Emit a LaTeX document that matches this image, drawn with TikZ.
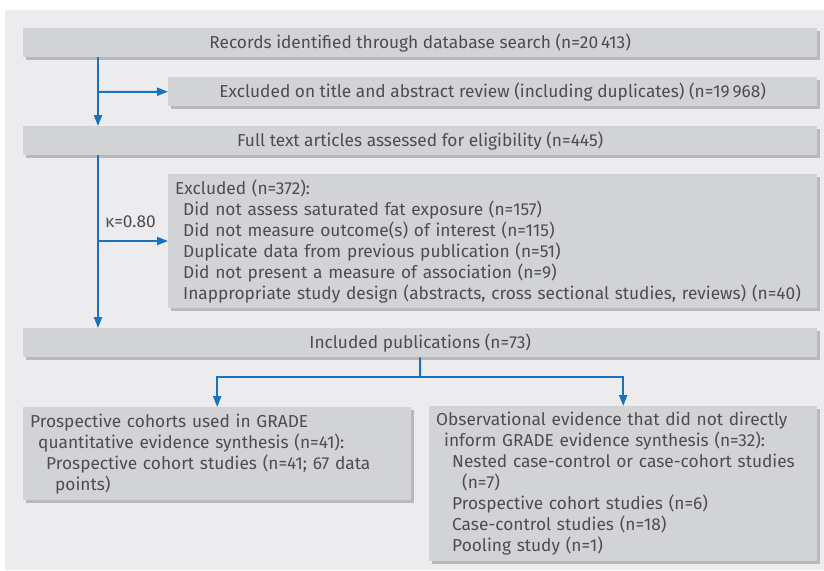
\documentclass[tikz,border=0pt]{standalone}
\usepackage{fontspec}
\setmainfont{Fira Sans}
\usepackage{tikz}
\usetikzlibrary{shadows}
\usetikzlibrary{arrows.meta}
\usetikzlibrary{calc}
\definecolor{panelgray}{HTML}{ECECEE}
\definecolor{boxgray}{HTML}{D2D3D5}
\definecolor{shadowgray}{HTML}{B8B9BB}
\definecolor{textgray}{HTML}{4D4D4F}
\definecolor{flowblue}{HTML}{1C71BD}

\begin{document}
\begin{tikzpicture}[x=1pt, y=-1pt, font=\fontsize{17.3}{21}\selectfont, text=textgray,
  box/.style={fill=boxgray, inner sep=0pt, anchor=north west,
    drop shadow={shadow xshift=3pt, shadow yshift=-3pt, fill=shadowgray, opacity=1}},
  listbox/.style={box, align=left, inner xsep=7pt},
  flow/.style={draw=flowblue, line width=2pt, -{Triangle[length=11pt,width=8pt]}}]
\useasboundingbox (0,0) rectangle (824,570);
\fill[panelgray] (5,10) rectangle (824,570);

\node[box, minimum width=794pt, minimum height=29pt] (rec) at (23,28) {Records identified through database search (n=20\,413)};
\node[box, minimum width=649pt, minimum height=29pt] (excl1) at (168,77) {Excluded on title and abstract review (including duplicates) (n=19\,968)};
\node[box, minimum width=794pt, minimum height=29pt] (full) at (23,126) {Full text articles assessed for eligibility (n=445)};
\node[listbox, text width=635pt, minimum height=134pt] (excl2) at (168,174) {Excluded (n=372):\\
  \hspace*{8pt}Did not assess saturated fat exposure (n=157)\\
  \hspace*{8pt}Did not measure outcome(s) of interest (n=115)\\
  \hspace*{8pt}Duplicate data from previous publication (n=51)\\
  \hspace*{8pt}Did not present a measure of association (n=9)\\
  \hspace*{8pt}Inappropriate study design (abstracts, cross sectional studies, reviews) (n=40)};
\node[box, minimum width=794pt, minimum height=29pt] (incl) at (23,328) {Included publications (n=73)};
\node[listbox, text width=374pt, minimum height=93pt] (cohorts) at (23,407) {Prospective cohorts used in GRADE\\
  \hspace*{8pt}quantitative evidence synthesis (n=41):\\
  \hspace*{16pt}Prospective cohort studies (n=41; 67 data\\
  \hspace*{25pt}points)};
\node[listbox, text width=374pt, minimum height=155pt] (obs) at (429,406) {Observational evidence that did not directly\\
  \hspace*{8pt}inform GRADE evidence synthesis (n=32):\\
  \hspace*{16pt}Nested case-control or case-cohort studies\\
  \hspace*{26pt}(n=7)\\
  \hspace*{16pt}Prospective cohort studies (n=6)\\
  \hspace*{16pt}Case-control studies (n=18)\\
  \hspace*{16pt}Pooling study (n=1)};

\coordinate (branch1) at (98,92);
\coordinate (branch2) at (98,241);
\coordinate (split) at (420,377);
\draw[flow] (rec.south -| branch1) -- (full.north -| branch1);
\draw[flow] (branch1) -- (excl1.west);
\draw[flow] (full.south -| branch2) -- (incl.north -| branch2);
\draw[flow] (branch2) -- (branch2 -| excl2.west);
\node[anchor=base west, inner sep=0pt] (kappa) at (105,227) {κ=0.80};
\draw[flow, -] (incl.south) -- (split);
\draw[flow] (split) -| (cohorts.north);
\draw[flow] (split) -| (obs.north);
\end{tikzpicture}
\end{document}
